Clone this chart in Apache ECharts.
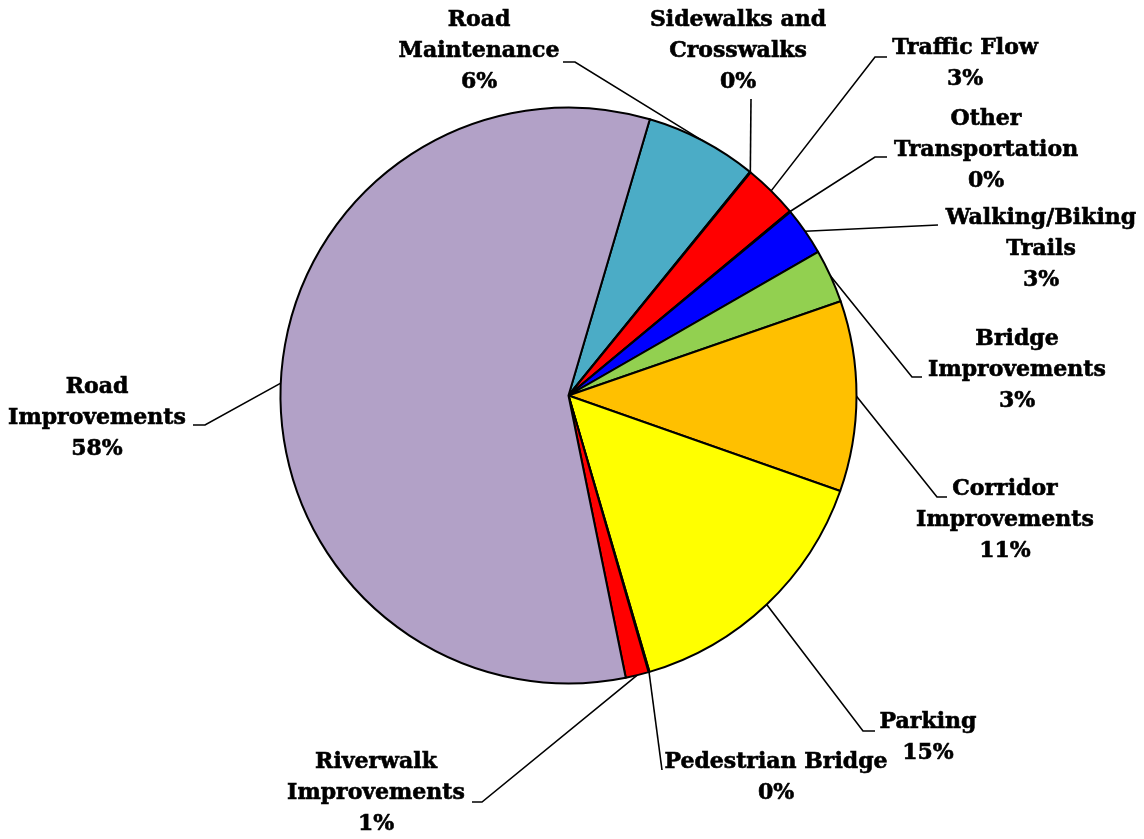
<!DOCTYPE html>
<html><head><meta charset="utf-8">
<script src="https://cdn.jsdelivr.net/npm/echarts@6/dist/echarts.min.js"></script>
<style>html,body{margin:0;padding:0;background:#fff}#c{width:1144px;height:839px}</style>
</head><body><div id="c"></div>
<script>
// ---- data ----
const categories = ['Road Maintenance','Sidewalks and Crosswalks','Traffic Flow','Other Transportation','Walking/Biking Trails','Bridge Improvements','Corridor Improvements','Parking','Pedestrian Bridge','Riverwalk Improvements','Road Improvements'];
const labelNames = ['Road\nMaintenance','Sidewalks and\nCrosswalks','Traffic Flow','Other\nTransportation','Walking/Biking\nTrails','Bridge\nImprovements','Corridor\nImprovements','Parking','Pedestrian Bridge','Riverwalk\nImprovements','Road\nImprovements'];
const values = [6.3, 0.05, 3.05, 0.05, 2.7, 3.0, 10.7, 15.1, 0.05, 1.3, 57.8];
const colors = ['#4BACC6','#4F81BD','#FF0000','#C0504D','#0000FF','#92D050','#FFC000','#FFFF00','#000000','#FF0000','#B2A1C7'];

// ---- label placement (presentation only) ----
const labelPlace = [
  {x:479,  y:51,  elbow:[575,62],  end:[563,62]},
  {x:738,  y:51,  elbow:null,      end:[751,99]},
  {x:965,  y:64,  elbow:[875,57],  end:[887,57]},
  {x:986,  y:150, elbow:[875,157], end:[887,157]},
  {x:1041, y:249, elbow:null,      end:[938,225]},
  {x:1017, y:370, elbow:[912,377], end:[922,377]},
  {x:1005, y:520, elbow:[937,497], end:[947,497]},
  {x:928,  y:738, elbow:[863,731], end:[875,731]},
  {x:776,  y:778, elbow:null,      end:[662,770]},
  {x:376,  y:793, elbow:[482,802], end:[472,802]},
  {x:97,   y:418, elbow:[205,425], end:[193,425]}
];

const chart = echarts.init(document.getElementById('c'), null, {renderer:'canvas'});
chart.setOption({
  animation: false,
  backgroundColor: '#fff',
  series: [{
    type: 'pie',
    center: [568.5, 395.5],
    radius: 288,
    startAngle: 73.6,
    clockwise: true,
    avoidLabelOverlap: false,
    data: categories.map((c, i) => ({name: c, value: values[i], itemStyle: {color: colors[i]}})),
    itemStyle: {borderColor: '#000', borderWidth: 2},
    emphasis: {disabled: true},
    label: {
      show: true,
      position: 'outside',
      color: '#000',
      fontFamily: 'DejaVu Serif',
      fontWeight: 'bold',
      fontSize: 22,
      lineHeight: 31,
      align: 'center',
      textBorderColor: '#000',
      textBorderWidth: 0.6,
      formatter: p => labelNames[p.dataIndex] + '\n' + Math.round(p.percent) + '%'
    },
    labelLine: {show: true, length: 10, length2: 10, smooth: false, lineStyle: {color: '#000', width: 1.6}},
    labelLayout: function (params) {
      const lp = labelPlace[params.dataIndex];
      const p0 = params.labelLinePoints ? params.labelLinePoints[0] : lp.end;
      const mid = lp.elbow || lp.end;
      return {
        x: lp.x, y: lp.y, align: 'center', verticalAlign: 'middle',
        labelLinePoints: [p0, mid, lp.end]
      };
    }
  }]
});
</script>
</body></html>
